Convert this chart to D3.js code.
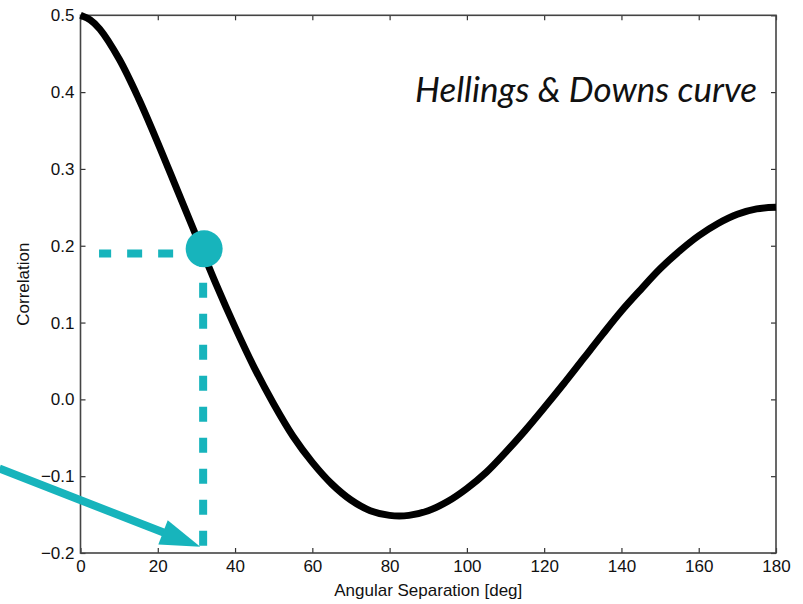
<!DOCTYPE html>
<html>
<head>
<meta charset="utf-8">
<script src="https://cdn.jsdelivr.net/npm/d3@7"></script>
<style>
  body { margin: 0; background: #fff; }
  svg { display: block; }
</style>
</head>
<body>
<div id="chart"></div>
<script>
// Hellings & Downs correlation
const angles = [0, 2.5, 5, 10, 15, 20, 25, 30, 35, 40, 45, 50, 55, 60, 65, 70, 75, 80, 85, 90,
    95, 100, 105, 110, 115, 120, 125, 130, 135, 140, 145, 150, 155, 160, 165, 170, 175, 180]
const correlation = [0.5, 0.494, 0.482, 0.443, 0.392, 0.334, 0.273, 0.212, 0.151, 0.094, 0.041, -0.006, -0.048, -0.082, -0.110, -0.131, -0.145, -0.151, -0.151, -0.145,
    -0.133, -0.116, -0.095, -0.069, -0.041, -0.011, 0.020, 0.052, 0.084, 0.115, 0.143, 0.170, 0.193, 0.213, 0.229, 0.241, 0.248, 0.25]

const xTicks = [0, 20, 40, 60, 80, 100, 120, 140, 160, 180]
const yTicks = [-0.2, -0.1, 0.0, 0.1, 0.2, 0.3, 0.4, 0.5]

// highlighted pair and the pointer arrow
const marker = [32, 0.196]
const guide = [32, 0.19]
const arrowFrom = [-21, -0.09]
const arrowTo = [31, -0.192]

const width = 803
const height = 604
const margin = { top: 15.3, right: 27, bottom: 51, left: 80.5 }
const teal = '#17b4bc'

const svg = d3.select('#chart').append('svg')
    .attr('width', width)
    .attr('height', height)

const x = d3.scaleLinear().domain([0, 180]).range([margin.left, width - margin.right])
const y = d3.scaleLinear().domain([-0.2, 0.5]).range([height - margin.bottom, margin.top])

const tickFont = (g) => g.selectAll('text')
    .attr('font-family', 'Liberation Sans, Arial, sans-serif')
    .attr('font-size', 17)
    .attr('fill', '#111')

const styleAxis = (g) => {
    g.select('.domain').remove()
    g.selectAll('line').attr('stroke', '#333').attr('stroke-width', 1.2)
}

// axes with inward ticks on every side (matplotlib classic look)
svg.append('g')
    .attr('transform', `translate(0,${y(-0.2)})`)
    .call(d3.axisBottom(x).tickValues(xTicks).tickSizeInner(-5).tickSizeOuter(0).tickPadding(7).tickFormat(d3.format('d')))
    .call(styleAxis)
    .call(tickFont)

svg.append('g')
    .attr('transform', `translate(0,${y(0.5)})`)
    .call(d3.axisTop(x).tickValues(xTicks).tickSizeInner(-5).tickSizeOuter(0).tickFormat(''))
    .call(styleAxis)

svg.append('g')
    .attr('transform', `translate(${x(0)},0)`)
    .call(d3.axisLeft(y).tickValues(yTicks).tickSizeInner(-5).tickSizeOuter(0).tickPadding(6).tickFormat(d3.format('.1f')))
    .call(styleAxis)
    .call(tickFont)

svg.append('g')
    .attr('transform', `translate(${x(180)},0)`)
    .call(d3.axisRight(y).tickValues(yTicks).tickSizeInner(-5).tickSizeOuter(0).tickFormat(''))
    .call(styleAxis)

svg.append('rect')
    .attr('x', x(0))
    .attr('y', y(0.5))
    .attr('width', x(180) - x(0))
    .attr('height', y(-0.2) - y(0.5))
    .attr('fill', 'none')
    .attr('stroke', '#444')
    .attr('stroke-width', 1.6)

// the curve
const line = d3.line()
    .x((d, i) => x(angles[i]))
    .y(d => y(d))
    .curve(d3.curveCatmullRom.alpha(0.5))

svg.append('path')
    .datum(correlation)
    .attr('d', line)
    .attr('fill', 'none')
    .attr('stroke', '#000')
    .attr('stroke-width', 7)

// dashed guides
svg.append('line')
    .attr('x1', x(guide[0]))
    .attr('x2', x(4.8))
    .attr('y1', y(guide[1]))
    .attr('y2', y(guide[1]))
    .attr('stroke', teal)
    .attr('stroke-width', 8)
    .attr('stroke-dasharray', '15 16')

svg.append('line')
    .attr('x1', x(guide[0]) - 1)
    .attr('x2', x(guide[0]) - 1)
    .attr('y1', y(marker[1]))
    .attr('y2', y(-0.2))
    .attr('stroke', teal)
    .attr('stroke-width', 8)
    .attr('stroke-dasharray', '15 16')
    .attr('stroke-dashoffset', -3)

svg.append('circle')
    .attr('cx', x(marker[0]))
    .attr('cy', y(marker[1]))
    .attr('r', 18.5)
    .attr('fill', teal)

// arrow
const ax0 = x(arrowFrom[0]), ay0 = y(arrowFrom[1])
const ax1 = x(arrowTo[0]), ay1 = y(arrowTo[1])
const ang = Math.atan2(ay1 - ay0, ax1 - ax0)
const headLen = 40
const headHalf = 13
const bx = ax1 - headLen * Math.cos(ang)
const by = ay1 - headLen * Math.sin(ang)

svg.append('line')
    .attr('x1', ax0)
    .attr('y1', ay0)
    .attr('x2', bx + 2 * Math.cos(ang))
    .attr('y2', by + 2 * Math.sin(ang))
    .attr('stroke', teal)
    .attr('stroke-width', 8)

svg.append('polygon')
    .attr('points', [
        [ax1, ay1],
        [bx - headHalf * Math.sin(ang), by + headHalf * Math.cos(ang)],
        [bx + headHalf * Math.sin(ang), by - headHalf * Math.cos(ang)],
    ].map(p => p.join(',')).join(' '))
    .attr('fill', teal)

// labels
svg.append('text')
    .attr('x', (x(0) + x(180)) / 2)
    .attr('y', 596)
    .attr('text-anchor', 'middle')
    .attr('font-family', 'Liberation Sans, Arial, sans-serif')
    .attr('font-size', 17)
    .attr('fill', '#111')
    .text('Angular Separation [deg]')

svg.append('text')
    .attr('transform', `translate(29,${(y(0.5) + y(-0.2)) / 2}) rotate(-90)`)
    .attr('text-anchor', 'middle')
    .attr('font-family', 'Liberation Sans, Arial, sans-serif')
    .attr('font-size', 17)
    .attr('fill', '#111')
    .text('Correlation')

svg.append('text')
    .attr('x', 757)
    .attr('y', 102)
    .attr('text-anchor', 'end')
    .attr('font-family', 'Lato, sans-serif')
    .attr('font-style', 'italic')
    .attr('font-size', 35)
    .attr('fill', '#111')
    .text('Hellings & Downs curve')
</script>
</body>
</html>
